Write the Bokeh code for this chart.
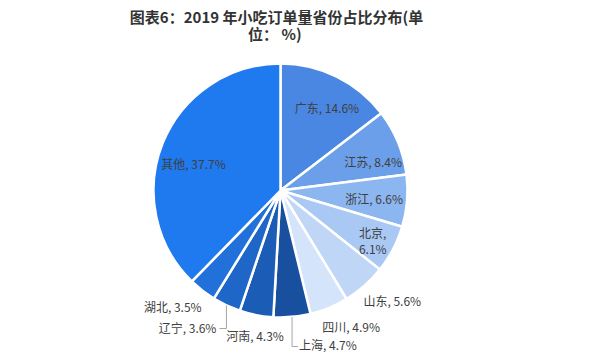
import math
from bokeh.plotting import figure
from bokeh.models import Range1d, ColumnDataSource
from bokeh.core.properties import value
from bokeh.embed import file_html
from bokeh.resources import INLINE

# ---- data ----
provinces = ["广东", "江苏", "浙江", "北京", "山东", "四川", "上海", "河南", "辽宁", "湖北", "其他"]
shares = [14.6, 8.4, 6.6, 6.1, 5.6, 4.9, 4.7, 4.3, 3.6, 3.5, 37.7]
title_line1 = "图表6：2019 年小吃订单量省份占比分布(单"
title_line2 = "位：  %)"

# ---- styles ----
colors = ["#4a87e2", "#6c9fea", "#8cb6f0", "#a9c8f4", "#bfd6f7", "#d4e4fa",
          "#184f9e", "#1b5cb6", "#1e66c8", "#2270da", "#1f79ef"]
# label placement: radius (px), angle tweak (deg)
lab_r = [95, 97, 94, 105, 157, 153, 0, 147, 0, 158, 91]
lab_da = [3, 5, 0, 1, -4, -5, 0, -1, 0, 5, -5]

W, H = 600, 358
cx, cy, R = 280, H - 190, 127

p = figure(width=W, height=H, output_backend="svg", toolbar_location=None,
           x_range=Range1d(0, W), y_range=Range1d(0, H), min_border=0)
p.axis.visible = False
p.grid.visible = False
p.outline_line_color = None
p.background_fill_color = "white"

total = sum(shares)
cum = 0.0
starts, ends, mids = [], [], []
for s in shares:
    c0 = cum / total
    cum += s
    c1 = cum / total
    starts.append(math.pi / 2 - 2 * math.pi * c1)
    ends.append(math.pi / 2 - 2 * math.pi * c0)
    mids.append((c0 + c1) / 2 * 360.0)

src = ColumnDataSource(dict(start=starts, end=ends, color=colors))
p.wedge(x=cx, y=cy, radius=R, radius_units="screen", start_angle="start", end_angle="end",
        fill_color="color", line_color="white", line_width=2.5, source=src)

font = value("Noto Sans CJK SC")
lab_color = "#404040"
fs = "12px"

def pos(ang_deg, r):
    a = math.radians(ang_deg)
    return cx + r * math.sin(a), cy + r * math.cos(a)

for i, (name, s) in enumerate(zip(provinces, shares)):
    txt = f"{name}, {s}%"
    if name == "上海":
        x0, y0 = pos(mids[i], R)
        yb = H - 346
        p.line([x0, x0, x0 + 6], [y0, yb, yb], line_color="#a6a6a6", line_width=1)
        p.text(x=[x0 + 7], y=[yb + 2], text=[txt], text_font=font, text_font_size=fs,
               text_color=lab_color, text_align="left", text_baseline="middle")
    elif name == "辽宁":
        x0, y0 = pos(mids[i], R)
        yb = H - 328
        p.line([x0, x0, x0 - 7], [y0, yb, yb], line_color="#a6a6a6", line_width=1)
        p.text(x=[x0 - 10], y=[yb + 1], text=[txt], text_font=font, text_font_size=fs,
               text_color=lab_color, text_align="right", text_baseline="middle")
    elif name == "北京":
        x, y = pos(mids[i] + lab_da[i], lab_r[i])
        p.text(x=[x, x], y=[y + 8, y - 8], text=[f"{name},", f"{s}%"], text_font=font,
               text_font_size=fs, text_color=lab_color, text_align="center",
               text_baseline="middle")
    else:
        x, y = pos(mids[i] + lab_da[i], lab_r[i])
        p.text(x=[x], y=[y], text=[txt], text_font=font, text_font_size=fs,
               text_color=lab_color, text_align="center", text_baseline="middle")

p.text(x=[276, 276], y=[H - 16, H - 33], text=[title_line1, title_line2], text_font=font,
       text_font_size="15px", text_font_style="bold", text_color="#333333",
       text_align="center", text_baseline="middle")

open("out.html", "w").write(file_html(p, INLINE))
